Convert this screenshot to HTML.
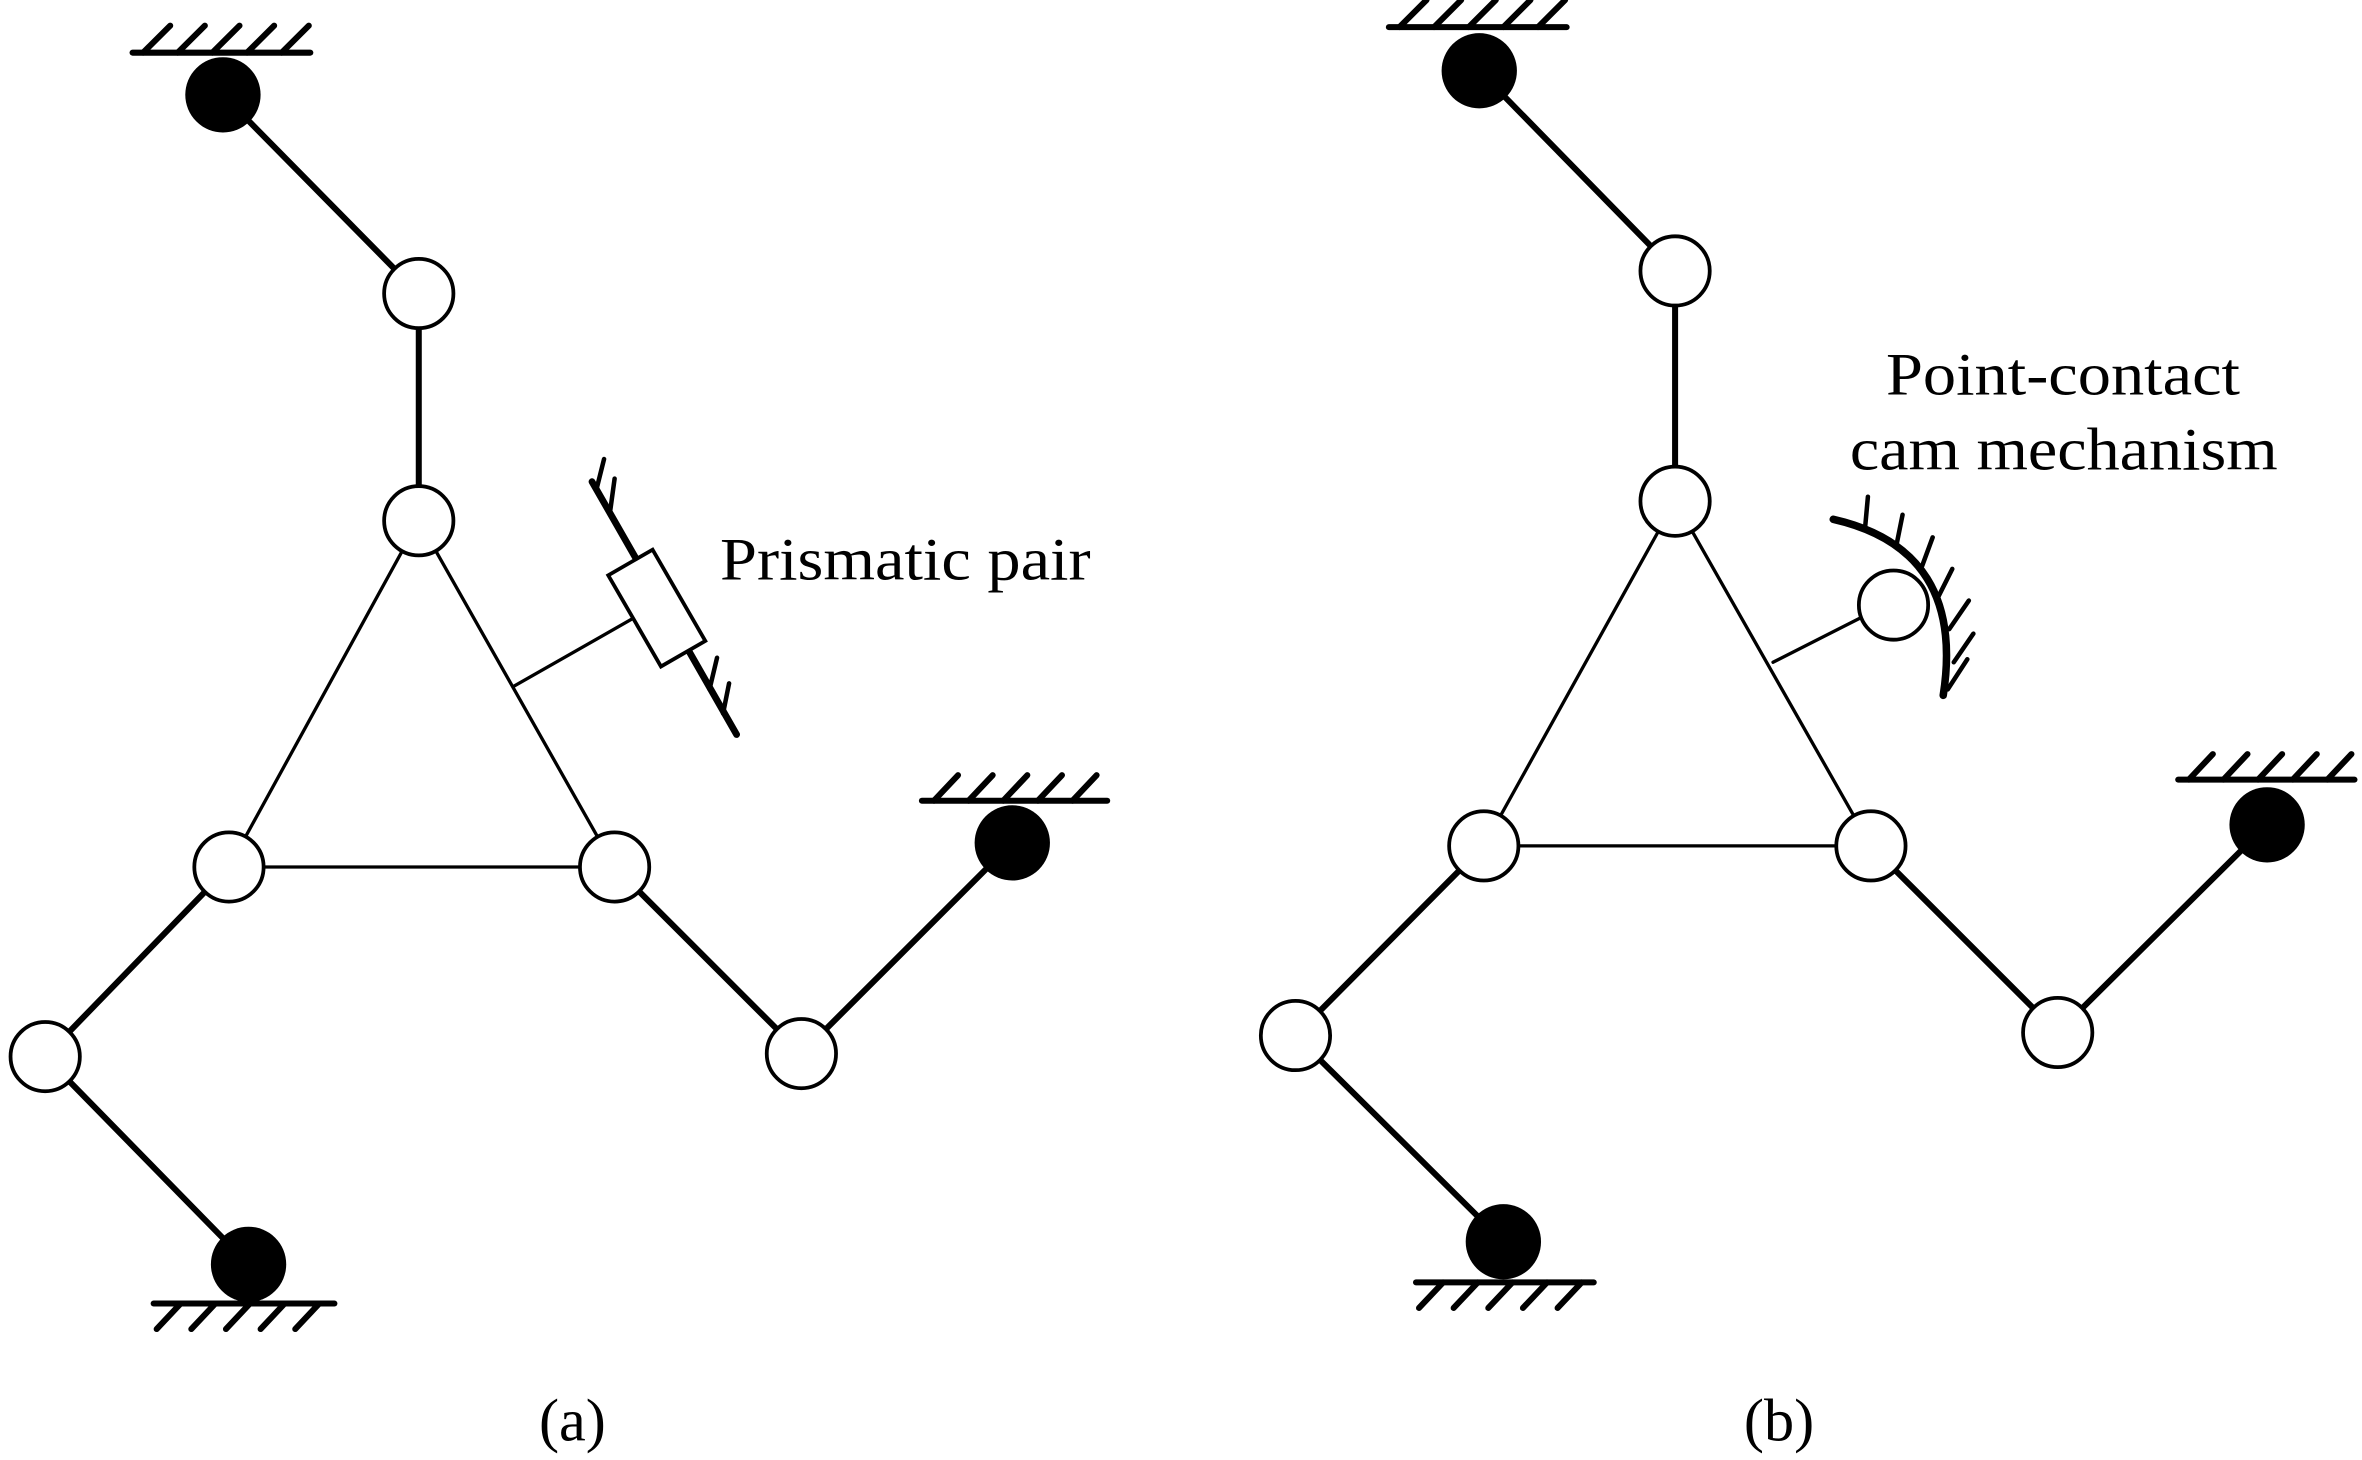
<!DOCTYPE html>
<html><head><meta charset="utf-8"><style>html,body{margin:0;padding:0;background:#fff}svg{display:block}</style></head>
<body>
<svg width="2362" height="1460" viewBox="0 0 1568 970" preserveAspectRatio="none" xmlns="http://www.w3.org/2000/svg">
<g stroke="#000" fill="none" stroke-linecap="round">
<g stroke-width="4">
<line x1="148" y1="63" x2="278" y2="195"/>
<line x1="278" y1="195" x2="278" y2="346"/>
<line x1="152" y1="576" x2="30" y2="702"/>
<line x1="30" y1="702" x2="165" y2="840"/>
<line x1="408" y1="576" x2="532" y2="700"/>
<line x1="532" y1="700" x2="672" y2="560"/>
</g>
<g stroke-width="2.2">
<line x1="278" y1="346" x2="152" y2="576"/>
<line x1="278" y1="346" x2="408" y2="576"/>
<line x1="152" y1="576" x2="408" y2="576"/>
<line x1="341" y1="456" x2="420" y2="411"/>
</g>
<g stroke-width="4">
<line x1="88" y1="35" x2="206" y2="35"/>
<path d="M95 35l18-18M118 35l18-18M141 35l18-18M164 35l18-18M187 35l18-18"/>
<line x1="102" y1="866" x2="222" y2="866"/>
<path d="M120 866l-16 17M143 866l-16 17M166 866l-16 17M189 866l-16 17M212 866l-16 17"/>
<line x1="612" y1="532" x2="735" y2="532"/>
<path d="M620 532l16-17M643 532l16-17M666 532l16-17M689 532l16-17M712 532l16-17"/>
</g>
<line x1="393" y1="320" x2="489" y2="488" stroke-width="4.5"/>
<path d="M396 325l5-20M405 340l3-22M471 458l5-21M480 474l4-20" stroke-width="3"/>
<rect x="-17" y="-35" width="34" height="70" transform="translate(436,404) rotate(-30)" fill="#fff" stroke-width="2.5"/>
<g stroke-width="4">
<line x1="982" y1="47" x2="1112" y2="180"/>
<line x1="1112" y1="180" x2="1112" y2="333"/>
<line x1="985" y1="562" x2="860" y2="688"/>
<line x1="860" y1="688" x2="998" y2="825"/>
<line x1="1242" y1="562" x2="1366" y2="686"/>
<line x1="1366" y1="686" x2="1505" y2="548"/>
</g>
<g stroke-width="2.2">
<line x1="1112" y1="333" x2="985" y2="562"/>
<line x1="1112" y1="333" x2="1242" y2="562"/>
<line x1="985" y1="562" x2="1242" y2="562"/>
<line x1="1177" y1="440" x2="1240" y2="408"/>
</g>
<g stroke-width="4">
<line x1="922" y1="18" x2="1040" y2="18"/>
<path d="M929 18l18-18M952 18l18-18M975 18l18-18M998 18l18-18M1021 18l18-18"/>
<line x1="940" y1="852" x2="1058" y2="852"/>
<path d="M958 852l-16 17M981 852l-16 17M1004 852l-16 17M1027 852l-16 17M1050 852l-16 17"/>
<line x1="1446" y1="518" x2="1563" y2="518"/>
<path d="M1453 518l16-17M1476 518l16-17M1499 518l16-17M1522 518l16-17M1545 518l16-17"/>
</g>
<path d="M1217 345 Q1305 365 1290 462" stroke-width="5"/>
<path d="M1238 352l2-22M1259 362l4-20M1276 376l7-19M1287 396l9-18M1294 418l13-19M1297 440l13-19M1293 458l13-20" stroke-width="3"/>
</g>
<g stroke="#000" stroke-width="2.5" fill="#fff">
<circle cx="278" cy="195" r="23"/>
<circle cx="278" cy="346" r="23"/>
<circle cx="152" cy="576" r="23"/>
<circle cx="408" cy="576" r="23"/>
<circle cx="30" cy="702" r="23"/>
<circle cx="532" cy="700" r="23"/>
<circle cx="1112" cy="180" r="23"/>
<circle cx="1112" cy="333" r="23"/>
<circle cx="985" cy="562" r="23"/>
<circle cx="1242" cy="562" r="23"/>
<circle cx="860" cy="688" r="23"/>
<circle cx="1366" cy="686" r="23"/>
<circle cx="1257" cy="402" r="23"/>
</g>
<g fill="#000">
<circle cx="148" cy="63" r="25"/>
<circle cx="165" cy="840" r="25"/>
<circle cx="672" cy="560" r="25"/>
<circle cx="982" cy="47" r="25"/>
<circle cx="998" cy="825" r="25"/>
<circle cx="1505" cy="548" r="25"/>
</g>
<g font-family="Liberation Serif, serif" font-size="40" fill="#000">
<text x="478" y="385" textLength="246" lengthAdjust="spacingAndGlyphs">Prismatic pair</text>
<text x="1252" y="262" textLength="235" lengthAdjust="spacingAndGlyphs">Point-contact</text>
<text x="1228" y="312" textLength="284" lengthAdjust="spacingAndGlyphs">cam mechanism</text>
<text x="380" y="957" text-anchor="middle">(a)</text>
<text x="1181" y="957" text-anchor="middle">(b)</text>
</g>
</svg>
</body></html>
